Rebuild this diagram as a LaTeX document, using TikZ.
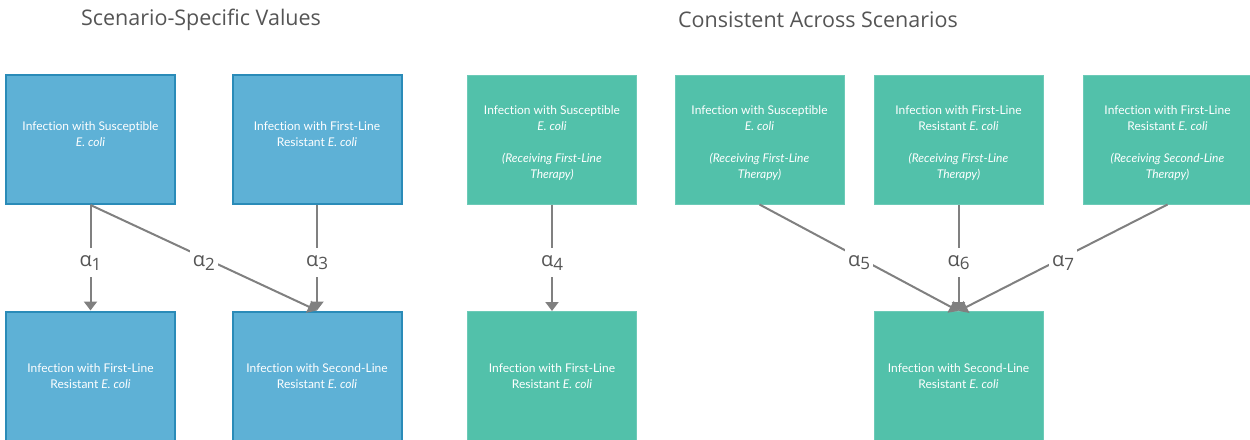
\documentclass[tikz,border=0pt]{standalone}
\usepackage{fontspec}
\setmainfont{Lato}[Ligatures=CommonOff]
\newfontfamily\headfont{Open Sans}
\usetikzlibrary{arrows.meta}

\definecolor{boxblue}{HTML}{5EB1D6}
\definecolor{edgeblue}{HTML}{2A8BB8}
\definecolor{boxgreen}{HTML}{52C1AA}
\definecolor{linegray}{HTML}{808080}
\definecolor{titlegray}{HTML}{555555}

\newcommand{\rlab}[1]{α\raisebox{-0.35ex}{\fontsize{17}{17}\selectfont #1}}
\newcommand{\topgap}[1]{\rule{0pt}{#1}}

\begin{document}
\begin{tikzpicture}[x=1pt,y=-1pt,
                    every edge/.style={draw=linegray,line width=2pt,-{Triangle[width=13pt,length=9pt]}},
                    every text node part/.style={align=center}]
  \tikzstyle{box}=[rectangle,minimum width=169pt,minimum height=129pt,inner sep=0pt,
                   text=white,font=\fontsize{12}{16.3}\selectfont]
  \tikzstyle{blue box}=[box,draw=edgeblue,fill=boxblue,line width=2pt]
  \tikzstyle{green box}=[box,draw=boxgreen!85!white,fill=boxgreen,line width=1pt]
  \tikzstyle{rate}=[fill=white,inner xsep=3pt,inner ysep=7pt,yshift=-5pt,text=titlegray,font=\headfont\fontsize{20}{20}\selectfont]
  \tikzstyle{heading}=[text=titlegray,font=\headfont\fontsize{21.5}{24}\selectfont]

  \useasboundingbox (0,0) rectangle (1250,439);

  \node[heading] (h1) at (201,20) {Scenario-Specific Values};
  \node[heading] (h2) at (818,20) {Consistent Across Scenarios};

  % scenario-specific
  \node[blue box] (S)  at (90.5,139.5) {\topgap{14pt}Infection with Susceptible\\\textit{E. coli}\\~};
  \node[blue box] (F)  at (317,139.5)  {\topgap{14pt}Infection with First-Line\\Resistant \textit{E. coli}\\~};
  \node[blue box] (F2) at (90.5,376)   {Infection with First-Line\\Resistant \textit{E. coli}};
  \node[blue box] (L2) at (317,376)    {Infection with Second-Line\\Resistant \textit{E. coli}};

  % consistent
  \node[green box] (SA) at (552,139.5)    {\topgap{16pt}Infection with Susceptible\\\textit{E. coli}\\[16pt]\textit{(Receiving First-Line}\\\textit{Therapy)}};
  \node[green box] (SB) at (759.5,139.5)  {\topgap{16pt}Infection with Susceptible\\\textit{E. coli}\\[16pt]\textit{(Receiving First-Line}\\\textit{Therapy)}};
  \node[green box] (FB) at (958.5,139.5)  {\topgap{16pt}Infection with First-Line\\Resistant \textit{E. coli}\\[16pt]\textit{(Receiving First-Line}\\\textit{Therapy)}};
  \node[green box] (FC) at (1167.5,139.5) {\topgap{16pt}Infection with First-Line\\Resistant \textit{E. coli}\\[16pt]\textit{(Receiving Second-Line}\\\textit{Therapy)}};
  \node[green box] (FA) at (552,376)      {Infection with First-Line\\Resistant \textit{E. coli}};
  \node[green box] (LB) at (958.5,376)    {Infection with Second-Line\\Resistant \textit{E. coli}};

  \path (S.south)  edge node[rate] {\rlab{1}} (F2.north)
        (S.south)  edge node[rate] {\rlab{2}} (L2.north)
        (F.south)  edge node[rate] {\rlab{3}} (L2.north)
        (SA.south) edge node[rate] {\rlab{4}} (FA.north)
        (SB.south) edge node[rate] {\rlab{5}} (LB.north)
        (FB.south) edge node[rate] {\rlab{6}} (LB.north)
        (FC.south) edge node[rate] {\rlab{7}} (LB.north);
\end{tikzpicture}
\end{document}
